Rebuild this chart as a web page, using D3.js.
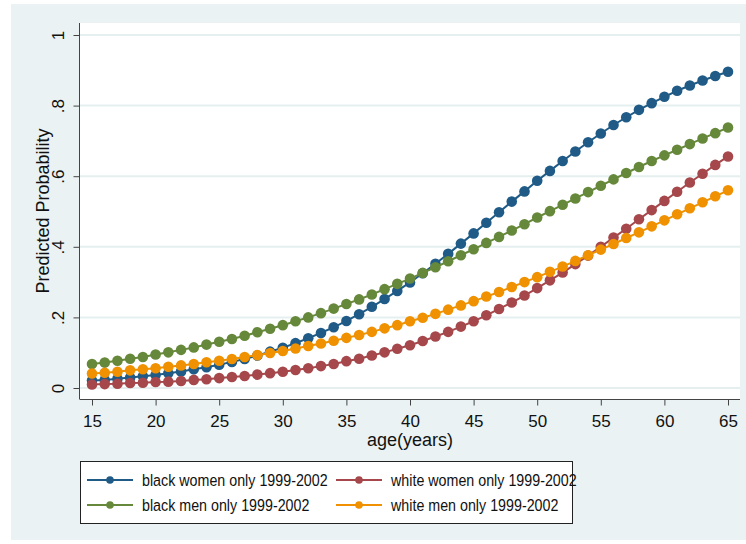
<!DOCTYPE html>
<html>
<head>
  <meta charset='utf-8'>
  <title>Predicted Probability by age</title>
  <script src="https://d3js.org/d3.v7.min.js"></script>
  <style>
    body { margin: 0; background: #fff; }
    text { font-family: 'Liberation Sans', Arial, sans-serif; fill: #111; }
  </style>
</head>
<body>
<svg id="chart" width="746" height="544"></svg>
<script>

  // ages 15..65, one marker per year
  const ages = d3.range(15, 66);

  const seriesNames = [
    'black women only 1999-2002',
    'white women only 1999-2002',
    'black men only 1999-2002',
    'white men only 1999-2002'
  ];

  // values
  const blackWomen = [
    0.021, 0.023, 0.026, 0.030, 0.033, 0.037, 0.042, 0.047, 0.053, 0.059,
    0.066, 0.074, 0.082, 0.092, 0.103, 0.114, 0.127, 0.141, 0.156, 0.172,
    0.190, 0.209, 0.230, 0.252, 0.275, 0.299, 0.325, 0.352, 0.380, 0.409,
    0.438, 0.468, 0.498, 0.528, 0.557, 0.587, 0.615, 0.643, 0.670, 0.696,
    0.721, 0.745, 0.767, 0.788, 0.807, 0.825, 0.842, 0.857, 0.871, 0.884,
    0.896
  ];
  const whiteWomen = [
    0.010, 0.011, 0.012, 0.014, 0.015, 0.017, 0.018, 0.020, 0.023, 0.025,
    0.028, 0.031, 0.034, 0.038, 0.042, 0.046, 0.051, 0.056, 0.062, 0.068,
    0.076, 0.083, 0.092, 0.101, 0.111, 0.121, 0.133, 0.146, 0.159, 0.174,
    0.189, 0.206, 0.224, 0.242, 0.262, 0.283, 0.305, 0.327, 0.351, 0.375,
    0.400, 0.426, 0.451, 0.478, 0.504, 0.530, 0.556, 0.582, 0.607, 0.632,
    0.656
  ];
  const blackMen = [
    0.068, 0.072, 0.077, 0.083, 0.088, 0.095, 0.101, 0.108, 0.115, 0.123,
    0.131, 0.139, 0.148, 0.158, 0.168, 0.178, 0.189, 0.200, 0.212, 0.225,
    0.238, 0.251, 0.265, 0.280, 0.295, 0.310, 0.326, 0.342, 0.359, 0.376,
    0.393, 0.411, 0.428, 0.446, 0.464, 0.483, 0.501, 0.519, 0.537, 0.555,
    0.573, 0.591, 0.609, 0.626, 0.643, 0.659, 0.675, 0.691, 0.707, 0.722,
    0.738
  ];
  const whiteMen = [
    0.041, 0.043, 0.046, 0.050, 0.053, 0.056, 0.060, 0.064, 0.068, 0.073,
    0.077, 0.082, 0.088, 0.093, 0.099, 0.105, 0.112, 0.119, 0.126, 0.134,
    0.142, 0.150, 0.159, 0.169, 0.178, 0.189, 0.199, 0.210, 0.222, 0.234,
    0.246, 0.259, 0.272, 0.286, 0.300, 0.314, 0.329, 0.344, 0.360, 0.376,
    0.392, 0.408, 0.425, 0.441, 0.458, 0.475, 0.492, 0.509, 0.526, 0.543,
    0.560
  ];

  const xTicks = [15, 20, 25, 30, 35, 40, 45, 50, 55, 60, 65];
  const yTicks = [0, 0.2, 0.4, 0.6, 0.8, 1];
  const yTickLabels = ['0', '.2', '.4', '.6', '.8', '1'];

  const colors = ['#1f5b86', '#a5474b', '#66883a', '#ef9100'];
  const allValues = [blackWomen, whiteWomen, blackMen, whiteMen];

  const series = seriesNames.map((name, i) => ({
    name: name,
    color: colors[i],
    points: ages.map((a, j) => ({ age: a, p: allValues[i][j] }))
  }));

  const svg = d3.select('#chart');

  // outer graph region
  svg.append('rect')
    .attr('x', 11).attr('y', 4)
    .attr('width', 735).attr('height', 536)
    .attr('fill', '#eaf2f3');

  // plot region
  const plot = { left: 80, right: 740, top: 23, bottom: 399 };
  svg.append('rect')
    .attr('x', plot.left).attr('y', plot.top)
    .attr('width', plot.right - plot.left)
    .attr('height', plot.bottom - plot.top)
    .attr('fill', '#fff');

  let x = d3.scaleLinear().domain([15, 65]).range([92, 728]);
  let y = d3.scaleLinear().domain([0, 1]).range([388, 35]);

  // grid
  svg.append('g')
    .selectAll('line')
    .data(yTicks)
    .join('line')
      .attr('x1', plot.left).attr('x2', plot.right)
      .attr('y1', d => y(d)).attr('y2', d => y(d))
      .attr('stroke', '#e6efef')
      .attr('stroke-width', 2);

  // y axis
  let yAxis = svg.append('g')
    .attr('transform', `translate(${plot.left - 0.5},0)`)
    .call(d3.axisLeft(y).tickValues(yTicks).tickSize(6).tickSizeOuter(0)
      .tickFormat((d, i) => yTickLabels[i]));
  yAxis.select('.domain').remove();
  yAxis.append('line')
    .attr('y1', plot.top).attr('y2', plot.bottom)
    .attr('stroke', '#444');
  yAxis.selectAll('.tick line').attr('stroke', '#444');
  yAxis.selectAll('.tick text')
    .attr('x', 0).attr('dy', 0)
    .attr('transform', 'translate(-16,0) rotate(-90)')
    .attr('text-anchor', 'middle')
    .style('font-family', "'Liberation Sans', Arial, sans-serif")
    .style('font-size', '17px')
    .attr('fill', '#111');

  // x axis
  let xAxis = svg.append('g')
    .attr('transform', `translate(0,${plot.bottom + 0.5})`)
    .call(d3.axisBottom(x).tickValues(xTicks).tickSize(6).tickSizeOuter(0));
  xAxis.select('.domain').remove();
  xAxis.append('line')
    .attr('x1', plot.left - 0.5).attr('x2', plot.right)
    .attr('stroke', '#444');
  xAxis.selectAll('.tick line').attr('stroke', '#444');
  xAxis.selectAll('.tick text')
    .attr('y', 27).attr('dy', 0)
    .style('font-family', "'Liberation Sans', Arial, sans-serif")
    .style('font-size', '17px')
    .attr('fill', '#111');

  // axis titles
  svg.append('text')
    .attr('transform', 'translate(49,211) rotate(-90)')
    .attr('text-anchor', 'middle')
    .style('font-size', '18px')
    .text('Predicted Probability');

  svg.append('text')
    .attr('x', 410).attr('y', 446)
    .attr('text-anchor', 'middle')
    .style('font-size', '18px')
    .text('age(years)');

  // lines and markers
  const line = d3.line().x(d => x(d.age)).y(d => y(d.p));

  const groups = svg.append('g')
    .selectAll('g')
    .data(series)
    .join('g');

  groups.append('path')
    .attr('d', d => line(d.points))
    .attr('fill', 'none')
    .attr('stroke', d => d.color)
    .attr('stroke-width', 2);

  groups.selectAll('circle')
    .data(d => d.points.map(p => ({ ...p, color: d.color })))
    .join('circle')
      .attr('cx', d => x(d.age))
      .attr('cy', d => y(d.p))
      .attr('r', 5.3)
      .attr('fill', d => d.color);

  // legend
  const legend = svg.append('g');
  legend.append('rect')
    .attr('x', 80.5).attr('y', 461.5)
    .attr('width', 492).attr('height', 62)
    .attr('fill', '#fff')
    .attr('stroke', '#222')
    .attr('stroke-width', 1);

  const items = legend.selectAll('g.item')
    .data(series)
    .join('g')
      .attr('class', 'item')
      .attr('transform', (d, i) => `translate(${i % 2 === 0 ? 87 : 336},${i < 2 ? 480 : 505})`);

  items.append('line')
    .attr('x1', 0).attr('x2', 46)
    .attr('stroke', d => d.color)
    .attr('stroke-width', 2);

  items.append('circle')
    .attr('cx', 23).attr('r', 3.8)
    .attr('fill', d => d.color);

  // stata text is a bit narrow, squeeze horizontally
  items.append('text')
    .attr('transform', 'translate(55,6) scale(0.84,1)')
    .style('font-size', '17px')
    .text(d => d.name);

</script>
</body>
</html>
